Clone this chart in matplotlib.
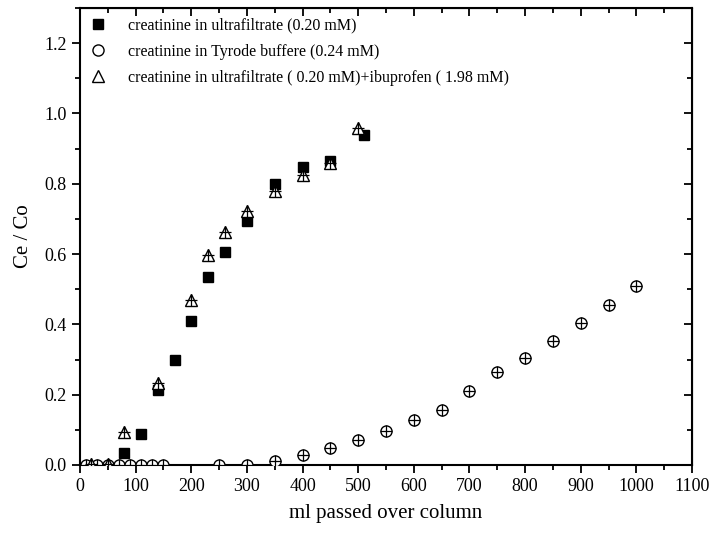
import matplotlib
matplotlib.use("Agg")
import matplotlib.pyplot as plt
from matplotlib.ticker import MultipleLocator, FormatStrFormatter

plt.rcParams['font.family'] = ['Liberation Serif', 'DejaVu Serif']

# Data
uf_x = [80, 110, 140, 170, 200, 230, 260, 300, 350, 400, 450, 510]
uf_y = [0.035, 0.088, 0.212, 0.298, 0.41, 0.535, 0.605, 0.695, 0.80, 0.847, 0.866, 0.94]

ty_x = [10, 30, 50, 70, 90, 110, 130, 150, 250, 300, 350, 400, 450, 500, 550, 600,
        650, 700, 750, 800, 850, 900, 950, 1000]
ty_y = [0.0, 0.0, 0.0, 0.0, 0.0, 0.0, 0.0, 0.0, 0.0, 0.0, 0.012, 0.027, 0.047, 0.072,
        0.098, 0.127, 0.157, 0.21, 0.265, 0.305, 0.352, 0.403, 0.455, 0.508]

ib_x = [20, 50, 80, 140, 200, 230, 260, 300, 350, 400, 450, 500]
ib_y = [0.003, 0.003, 0.095, 0.232, 0.47, 0.597, 0.662, 0.722, 0.778, 0.825, 0.86, 0.96]

labels = ["creatinine in ultrafiltrate (0.20 mM)",
          "creatinine in Tyrode buffere (0.24 mM)",
          "creatinine in ultrafiltrate ( 0.20 mM)+ibuprofen ( 1.98 mM)"]

fig = plt.figure(figsize=(7.11, 5.33), dpi=100)
ax = fig.add_axes([0.1125, 0.1276, 0.8608, 0.8574])

h1, = ax.plot(uf_x, uf_y, 's', color='black', markersize=7, linestyle='none', zorder=4)
h2, = ax.plot(ty_x, ty_y, 'o', markerfacecolor='white', markeredgecolor='black',
              markersize=8, markeredgewidth=1.0, linestyle='none', zorder=3)
ax.plot(ty_x, ty_y, '+', color='black', markersize=8, markeredgewidth=0.9,
        linestyle='none', zorder=3.5)
h3, = ax.plot(ib_x, ib_y, '^', markerfacecolor='white', markeredgecolor='black',
              markersize=8.5, markeredgewidth=1.0, linestyle='none', zorder=5)
ax.plot(ib_x, ib_y, '+', color='black', markersize=8, markeredgewidth=0.9,
        linestyle='none', zorder=5.5)

ax.set_xlim(0, 1100)
ax.set_ylim(0, 1.3)
ax.xaxis.set_major_locator(MultipleLocator(100))
ax.xaxis.set_minor_locator(MultipleLocator(50))
ax.yaxis.set_major_locator(MultipleLocator(0.2))
ax.yaxis.set_minor_locator(MultipleLocator(0.1))
ax.yaxis.set_major_formatter(FormatStrFormatter('%.1f'))

for s in ax.spines.values():
    s.set_linewidth(1.5)

ax.tick_params(which='both', direction='out', width=1.3, labelsize=13)
ax.tick_params(which='major', length=6)
ax.tick_params(which='minor', length=3.5)

secx = ax.secondary_xaxis('top')
secx.xaxis.set_major_locator(MultipleLocator(100))
secx.xaxis.set_minor_locator(MultipleLocator(50))
secx.tick_params(which='both', direction='in', width=1.3, labeltop=False)
secx.tick_params(which='major', length=6)
secx.tick_params(which='minor', length=3.5)
secy = ax.secondary_yaxis('right')
secy.yaxis.set_major_locator(MultipleLocator(0.2))
secy.yaxis.set_minor_locator(MultipleLocator(0.1))
secy.tick_params(which='both', direction='in', width=1.3, labelright=False)
secy.tick_params(which='major', length=6)
secy.tick_params(which='minor', length=3.5)

ax.set_xlabel("ml passed over column", fontsize=15, labelpad=6.5)
ax.set_ylabel("Ce / Co", fontsize=15, labelpad=8)

ax.legend([h1, h2, h3], labels, loc='upper left', frameon=False, fontsize=11.5,
          handlelength=1.0, handletextpad=1.4, labelspacing=0.63,
          borderaxespad=0.2, bbox_to_anchor=(0.0, 1.0))

fig.savefig("out.png", dpi=100)
